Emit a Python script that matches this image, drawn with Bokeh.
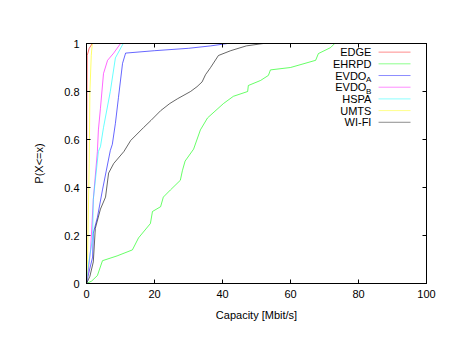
from bokeh.plotting import figure
from bokeh.models import ColumnDataSource, FixedTicker, LinearAxis, Range1d
from bokeh.core.properties import value
from bokeh.embed import file_html
from bokeh.resources import INLINE

# ---- data ----
edge_x = [0, 0.05, 0.1, 0.2, 0.8, 1.7]
edge_y = [0, 0.3, 0.7, 0.95, 0.98, 1.0]

ehrpd_x = [0, 1.5, 3.2, 4.7, 9, 13.5, 15.3, 18.8, 19.4, 21.8, 22.6, 24.7, 27.6, 28.2, 29,
           31.5, 33.5, 35.6, 40.3, 43.2, 47.4, 47.6, 51.2, 53.5, 54.1, 60, 67.4, 68.2, 71.8, 73]
ehrpd_y = [0, 0.01, 0.033, 0.095, 0.115, 0.14, 0.19, 0.25, 0.30, 0.32, 0.36, 0.39, 0.43, 0.47, 0.51,
           0.56, 0.64, 0.69, 0.75, 0.78, 0.80, 0.825, 0.846, 0.867, 0.89, 0.90, 0.93, 0.958, 0.983, 1.0]

evdoa_x = [0, 0.6, 1.8, 2, 3.2, 4.7, 7, 7.6, 8.5, 9.4, 10.6, 11.5, 20, 30, 36.5, 41.5]
evdoa_y = [0, 0.04, 0.11, 0.21, 0.275, 0.39, 0.554, 0.58, 0.667, 0.775, 0.917, 0.96, 0.97, 0.98, 0.99, 1.0]

evdob_x = [0, 0.5, 1.2, 2, 3.2, 3.5, 4.1, 5, 6.2, 8, 10]
evdob_y = [0, 0.05, 0.14, 0.35, 0.55, 0.64, 0.73, 0.875, 0.93, 0.96, 1.0]

hspa_x = [0, 0.6, 1.8, 2, 3.5, 4.1, 5, 7, 8.5, 10.8]
hspa_y = [0, 0.08, 0.19, 0.35, 0.55, 0.57, 0.65, 0.80, 0.94, 1.0]

umts_x = [0, 0.3, 0.8, 1.0, 1.4, 1.7]
umts_y = [0, 0.1, 0.5, 0.8, 0.95, 1.0]

wifi_x = [0, 1, 2, 2.6, 4.1, 5.6, 6.5, 8, 11, 13, 16.8, 19, 21.8, 24.5, 26.8, 30.6, 32.5,
          34, 35, 36.5, 38.8, 42.4, 47, 52]
wifi_y = [0, 0.03, 0.09, 0.23, 0.31, 0.36, 0.46, 0.5, 0.55, 0.596, 0.65, 0.68, 0.72, 0.75,
          0.77, 0.80, 0.82, 0.84, 0.87, 0.90, 0.95, 0.97, 0.99, 1.0]

series_names = ["EDGE", "EHRPD", "EVDO", "EVDO", "HSPA", "UMTS", "WI-FI"]
series_subs = ["", "", "A", "B", "", "", ""]
series_x = [edge_x, ehrpd_x, evdoa_x, evdob_x, hspa_x, umts_x, wifi_x]
series_y = [edge_y, ehrpd_y, evdoa_y, evdob_y, hspa_y, umts_y, wifi_y]
colors = ["#ff0000", "#00ff00", "#0000ff", "#ff00ff", "#00ffff", "#ffff00", "#000000"]

x_ticks = [0, 20, 40, 60, 80, 100]
y_ticks = [0, 0.2, 0.4, 0.6, 0.8, 1]
y_tick_labels = {0: "0", 0.2: "0.2", 0.4: "0.4", 0.6: "0.6", 0.8: "0.8", 1: "1"}

FONT = "Liberation Sans"
FS = "11px"

p = figure(width=449, height=345, output_backend="svg", toolbar_location=None,
           x_range=Range1d(0, 100), y_range=Range1d(0, 1),
           min_border_left=86, min_border_right=23, min_border_top=43, min_border_bottom=62)
p.xgrid.visible = False
p.ygrid.visible = False
p.outline_line_color = "black"
p.outline_line_width = 1
p.background_fill_color = "white"
p.border_fill_color = "white"

for xs, ys, c in zip(series_x, series_y, colors):
    p.line(xs, ys, line_color=c, line_width=1, line_alpha=0.6)

def style_axis(ax, labels=True):
    ax.major_tick_in = 4
    ax.major_tick_out = 0
    ax.minor_tick_in = 0
    ax.minor_tick_out = 0
    ax.axis_line_color = "black"
    ax.major_tick_line_color = "black"
    ax.major_label_text_font = FONT
    ax.major_label_text_font_size = FS
    ax.major_label_text_color = "black"
    ax.axis_label_text_font = FONT
    ax.axis_label_text_font_size = FS
    ax.axis_label_text_font_style = "normal"
    ax.axis_label_text_color = "black"

xa = p.xaxis[0]
style_axis(xa)
xa.ticker = FixedTicker(ticks=x_ticks)
xa.axis_label = "Capacity [Mbit/s]"
xa.major_label_standoff = 6
xa.axis_label_standoff = 8

ya = p.yaxis[0]
style_axis(ya)
ya.ticker = FixedTicker(ticks=y_ticks)
ya.major_label_overrides = y_tick_labels
ya.axis_label = "P(X<=x)"
ya.major_label_standoff = 7
ya.axis_label_standoff = 16

top = LinearAxis(ticker=FixedTicker(ticks=x_ticks))
style_axis(top)
top.major_label_overrides = {t: "" for t in x_ticks}
p.add_layout(top, "above")
right = LinearAxis(ticker=FixedTicker(ticks=y_ticks))
style_axis(right)
right.major_label_overrides = {t: "" for t in y_ticks}
p.add_layout(right, "right")

# ---- legend (gnuplot style: text then sample line), placed in the top-right corner ----
leg_text_x = 83.8
leg_line_x0 = 85.9
leg_line_x1 = 95.3
leg_top = 0.964
leg_step = 0.0487
rows = [leg_top - i * leg_step for i in range(len(series_names))]

main_src = ColumnDataSource(dict(
    x=[leg_text_x] * len(rows), y=rows, text=series_names,
    xoff=[-5 if s else 0 for s in series_subs]))
p.text(x="x", y="y", text="text", x_offset="xoff", source=main_src,
       text_align="right", text_baseline="middle", text_font=value(FONT),
       text_font_size=FS, text_color="black")

sub_rows = [r for r, s in zip(rows, series_subs) if s]
sub_txt = [s for s in series_subs if s]
sub_src = ColumnDataSource(dict(x=[leg_text_x] * len(sub_rows), y=sub_rows, text=sub_txt))
p.text(x="x", y="y", text="text", source=sub_src, y_offset=4,
       text_align="right", text_baseline="middle", text_font=value(FONT),
       text_font_size="8px", text_color="black")

seg_src = ColumnDataSource(dict(x0=[leg_line_x0] * len(rows), x1=[leg_line_x1] * len(rows),
                                y=rows, c=colors))
p.segment(x0="x0", y0="y", x1="x1", y1="y", line_color="c", line_width=1, line_alpha=0.45,
          source=seg_src)

open("out.html", "w").write(file_html(p, INLINE))
